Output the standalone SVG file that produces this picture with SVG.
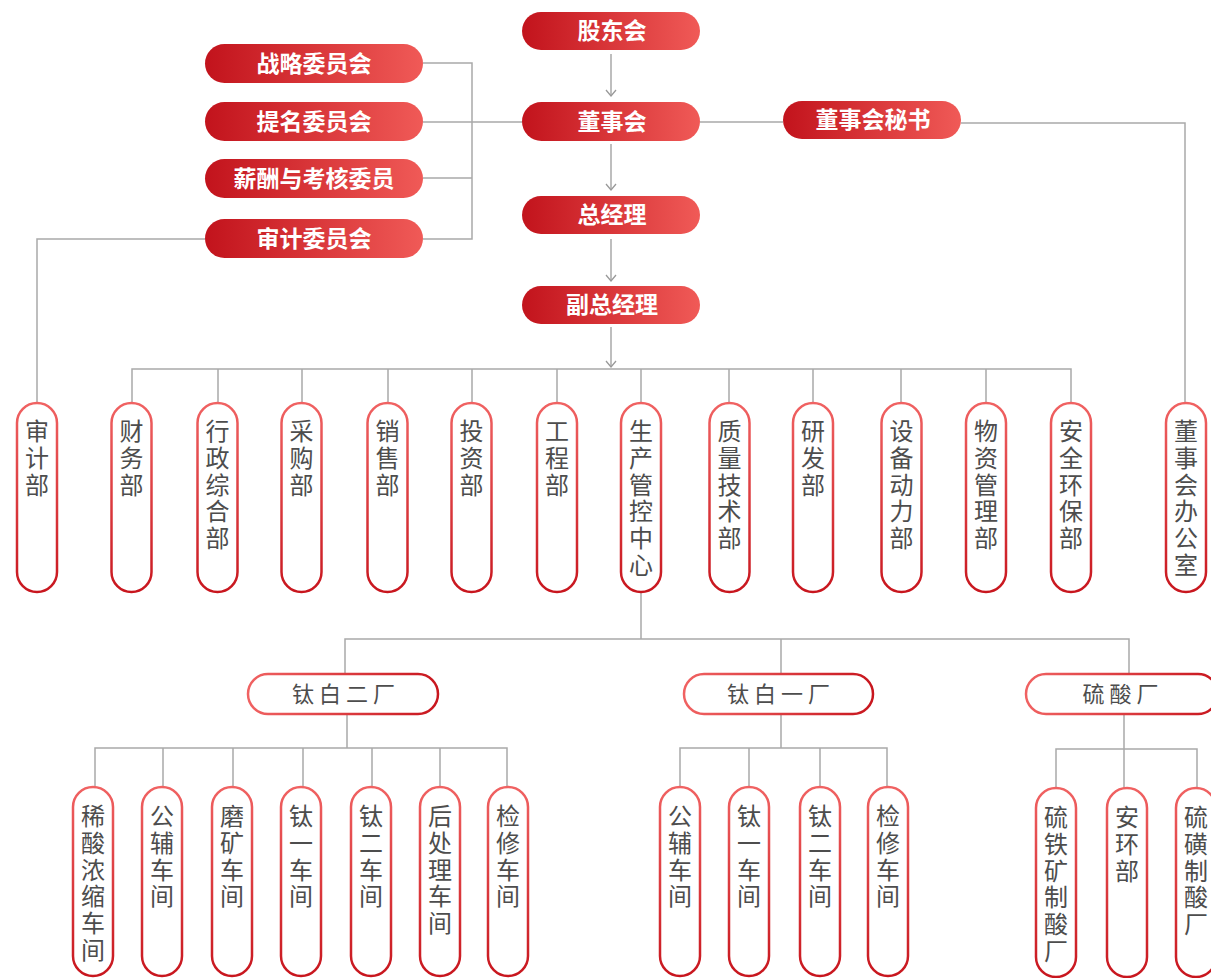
<svg xmlns="http://www.w3.org/2000/svg" width="1211" height="978" viewBox="0 0 1211 978">
<defs>
<linearGradient id="gRed" x1="0" y1="0" x2="1" y2="0"><stop offset="0" stop-color="#c2131c"/><stop offset="1" stop-color="#f05a57"/></linearGradient>
<linearGradient id="gV" x1="0" y1="0" x2="0" y2="1"><stop offset="0" stop-color="#f06262"/><stop offset="1" stop-color="#c8161e"/></linearGradient>
<linearGradient id="gH" x1="0" y1="0" x2="1" y2="0"><stop offset="0" stop-color="#f06262"/><stop offset="1" stop-color="#c8161e"/></linearGradient>
<marker id="arr" markerWidth="8" markerHeight="12" refX="7" refY="6" orient="auto" markerUnits="userSpaceOnUse" viewBox="0 0 8 12"><path d="M1,1 L7,6 L1,11" fill="none" stroke="#999" stroke-width="1.3"/></marker>
<style>
.red{fill:url(#gRed)}
.rt{font-family:"Noto Sans CJK SC","Noto Sans",sans-serif;font-weight:bold;font-size:23px;fill:#fff;text-anchor:middle}
.vp{fill:#fff;stroke:url(#gV);stroke-width:2.5}
.hp{fill:#fff;stroke:url(#gH);stroke-width:2.5}
.vt{font-family:"Noto Sans CJK SC","Noto Sans",sans-serif;font-size:24px;fill:#4d4d4d;writing-mode:vertical-rl;text-anchor:start;letter-spacing:2.7px}
.ht{font-family:"Noto Sans CJK SC","Noto Sans",sans-serif;font-size:22px;fill:#4d4d4d;text-anchor:middle;letter-spacing:5px}
.ln{fill:none;stroke:#a9a9a9;stroke-width:1.5}
</style>
</defs>
<g id="connectors">
<path class="ln" d="M611,54 V96" marker-end="url(#arr)"/>
<path class="ln" d="M611,144 V190" marker-end="url(#arr)"/>
<path class="ln" d="M611,239 V281" marker-end="url(#arr)"/>
<path class="ln" d="M611,327 V367" marker-end="url(#arr)"/>
<path class="ln" d="M423,63 H472 V239 H423 M423,178 H472 M423,122 H522 M700,122 H783 M961,123 H1185 V402"/>
<path class="ln" d="M205,239 H37 V402"/>
<path class="ln" d="M132,402 V369 H1071 V402 M218,369 V402 M302,369 V402 M388,369 V402 M472,369 V402 M557,369 V402 M641,369 V402 M729,369 V402 M813,369 V402 M901,369 V402 M986,369 V402"/>
<path class="ln" d="M641,593 V639 M345,673 V639 H1129 V673 M781,639 V673"/>
<path class="ln" d="M347,714 V748 M95,787 V748 H507 V787 M163,748 V787 M233,748 V787 M303,748 V787 M372,748 V787 M440,748 V787"/>
<path class="ln" d="M781,714 V748 M680,787 V748 H887 V787 M749,748 V787 M820,748 V787"/>
<path class="ln" d="M1124,714 V749 M1056,788 V749 H1197 V788 M1124,749 V788"/>
</g>
<g id="n-gdh"><rect class="red" x="522" y="12" width="178" height="38" rx="19"/><text class="rt" x="612" y="39">股东会</text></g>
<g id="n-dsh"><rect class="red" x="522" y="102" width="178" height="39" rx="19.5"/><text class="rt" x="612" y="130">董事会</text></g>
<g id="n-zjl"><rect class="red" x="522" y="196" width="178" height="38" rx="19"/><text class="rt" x="612" y="223">总经理</text></g>
<g id="n-fzjl"><rect class="red" x="522" y="286" width="178" height="38" rx="19"/><text class="rt" x="612" y="313">副总经理</text></g>
<g id="n-zl"><rect class="red" x="205" y="44" width="218" height="39" rx="19.5"/><text class="rt" x="314" y="72">战略委员会</text></g>
<g id="n-tm"><rect class="red" x="205" y="102" width="218" height="39" rx="19.5"/><text class="rt" x="314" y="130">提名委员会</text></g>
<g id="n-xc"><rect class="red" x="205" y="159" width="218" height="39" rx="19.5"/><text class="rt" x="314" y="187">薪酬与考核委员</text></g>
<g id="n-sj"><rect class="red" x="205" y="219" width="218" height="39" rx="19.5"/><text class="rt" x="314" y="247">审计委员会</text></g>
<g id="n-ms"><rect class="red" x="783" y="101" width="178" height="38" rx="19"/><text class="rt" x="873" y="128">董事会秘书</text></g>

<g id="d-sjb"><rect class="vp" x="17" y="403" width="40" height="189" rx="20"/><text class="vt" x="37" y="419">审计部</text></g>
<g id="d-cw"><rect class="vp" x="111.5" y="403" width="40" height="189" rx="20"/><text class="vt" x="131.5" y="419">财务部</text></g>
<g id="d-xz"><rect class="vp" x="197.5" y="403" width="40" height="189" rx="20"/><text class="vt" x="217.5" y="419">行政综合部</text></g>
<g id="d-cg"><rect class="vp" x="281.5" y="403" width="40" height="189" rx="20"/><text class="vt" x="301.5" y="419">采购部</text></g>
<g id="d-xs"><rect class="vp" x="367.5" y="403" width="40" height="189" rx="20"/><text class="vt" x="387.5" y="419">销售部</text></g>
<g id="d-tz"><rect class="vp" x="451.5" y="403" width="40" height="189" rx="20"/><text class="vt" x="471.5" y="419">投资部</text></g>
<g id="d-gc"><rect class="vp" x="537" y="403" width="40" height="189" rx="20"/><text class="vt" x="557" y="419">工程部</text></g>
<g id="d-sc"><rect class="vp" x="621" y="403" width="40" height="189" rx="20"/><text class="vt" x="641" y="419">生产管控中心</text></g>
<g id="d-zl"><rect class="vp" x="709.5" y="403" width="40" height="189" rx="20"/><text class="vt" x="729.5" y="419">质量技术部</text></g>
<g id="d-yf"><rect class="vp" x="793" y="403" width="40" height="189" rx="20"/><text class="vt" x="813" y="419">研发部</text></g>
<g id="d-sb"><rect class="vp" x="881.5" y="403" width="40" height="189" rx="20"/><text class="vt" x="901.5" y="419">设备动力部</text></g>
<g id="d-wz"><rect class="vp" x="966" y="403" width="40" height="189" rx="20"/><text class="vt" x="986" y="419">物资管理部</text></g>
<g id="d-aq"><rect class="vp" x="1051" y="403" width="40" height="189" rx="20"/><text class="vt" x="1071" y="419">安全环保部</text></g>
<g id="d-dsb"><rect class="vp" x="1166" y="403" width="40" height="189" rx="20"/><text class="vt" x="1186" y="419">董事会办公室</text></g>

<g id="f-tb2"><rect class="hp" x="248" y="674" width="190" height="40" rx="20"/><text class="ht" x="346" y="702">钛白二厂</text></g>
<g id="f-tb1"><rect class="hp" x="684" y="674" width="189" height="40" rx="20"/><text class="ht" x="781" y="702">钛白一厂</text></g>
<g id="f-ls"><rect class="hp" x="1026" y="674" width="192" height="40" rx="20"/><text class="ht" x="1123" y="702">硫酸厂</text></g>

<g id="w-xs"><rect class="vp" x="73" y="787" width="40" height="189" rx="20"/><text class="vt" x="93" y="804">稀酸浓缩车间</text></g>
<g id="w-gf2"><rect class="vp" x="142" y="787" width="40" height="189" rx="20"/><text class="vt" x="162" y="804">公辅车间</text></g>
<g id="w-mk"><rect class="vp" x="212" y="787" width="40" height="189" rx="20"/><text class="vt" x="232" y="804">磨矿车间</text></g>
<g id="w-ty2"><rect class="vp" x="281" y="787" width="40" height="189" rx="20"/><text class="vt" x="301" y="804">钛一车间</text></g>
<g id="w-te2"><rect class="vp" x="351" y="787" width="40" height="189" rx="20"/><text class="vt" x="371" y="804">钛二车间</text></g>
<g id="w-hcl"><rect class="vp" x="420" y="787" width="40" height="189" rx="20"/><text class="vt" x="440" y="804">后处理车间</text></g>
<g id="w-jx2"><rect class="vp" x="488" y="787" width="40" height="189" rx="20"/><text class="vt" x="508" y="804">检修车间</text></g>

<g id="w-gf1"><rect class="vp" x="660" y="787" width="40" height="189" rx="20"/><text class="vt" x="680" y="804">公辅车间</text></g>
<g id="w-ty1"><rect class="vp" x="729" y="787" width="40" height="189" rx="20"/><text class="vt" x="749" y="804">钛一车间</text></g>
<g id="w-te1"><rect class="vp" x="800" y="787" width="40" height="189" rx="20"/><text class="vt" x="820" y="804">钛二车间</text></g>
<g id="w-jx1"><rect class="vp" x="868" y="787" width="40" height="189" rx="20"/><text class="vt" x="888" y="804">检修车间</text></g>

<g id="w-ltk"><rect class="vp" x="1036" y="788" width="40" height="189" rx="20"/><text class="vt" x="1056" y="805">硫铁矿制酸厂</text></g>
<g id="w-ah"><rect class="vp" x="1107" y="788" width="40" height="189" rx="20"/><text class="vt" x="1127" y="805">安环部</text></g>
<g id="w-lh"><rect class="vp" x="1176" y="788" width="40" height="189" rx="20"/><text class="vt" x="1196" y="805">硫磺制酸厂</text></g>
</svg>
